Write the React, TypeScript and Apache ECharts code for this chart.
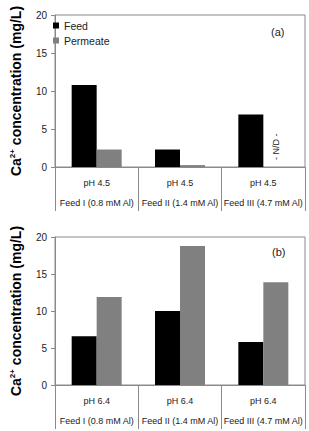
import React, { useEffect, useRef } from "react";
import * as echarts from "echarts";

// Feed solutions and their pH conditions
const feeds = ["Feed I (0.8 mM Al)", "Feed II (1.4 mM Al)", "Feed III (4.7 mM Al)"];
const phTop = ["pH 4.5", "pH 4.5", "pH 4.5"];
const phBottom = ["pH 6.4", "pH 6.4", "pH 6.4"];

// Ca2+ concentration (mg/L); permeate of Feed III at pH 4.5 was not detected
const feedTop = [10.8, 2.3, 6.9];
const permeateTop = [2.3, 0.25, 0];
const feedBottom = [6.6, 10.0, 5.8];
const permeateBottom = [11.9, 18.8, 13.9];

const yTicks = [0, 5, 10, 15, 20];

const FONT = "'Liberation Sans', Arial, sans-serif";
const LINE = "#8a8a8a";

export default function App() {
  const ref = useRef<HTMLDivElement>(null);

  useEffect(() => {
    if (!ref.current) return;
    const chart = echarts.init(ref.current, undefined, { renderer: "svg" });

    const xAxisFor = (gridIndex: number, ph: string[]) => ({
      type: "category",
      gridIndex,
      data: feeds.map((f, i) => `${ph[i]}\n${f}`),
      axisLine: { lineStyle: { color: LINE, width: 1 } },
      axisTick: {
        show: true,
        interval: 0,
        length: 44,
        lineStyle: { color: LINE, width: 1 },
      },
      axisLabel: {
        interval: 0,
        margin: 6,
        color: "#222",
        fontFamily: FONT,
        fontSize: 9,
        lineHeight: 20,
      },
    });

    const yAxisFor = (gridIndex: number) => ({
      type: "value",
      gridIndex,
      min: yTicks[0],
      max: yTicks[yTicks.length - 1],
      interval: 5,
      splitLine: { show: false },
      axisLine: { show: true, lineStyle: { color: LINE, width: 1 } },
      axisTick: { show: true, length: 4, lineStyle: { color: LINE } },
      axisLabel: { color: "#222", fontFamily: FONT, fontSize: 10, margin: 8 },
      name: "{b|Ca}{s|2+}{b| concentration (mg/L)}",
      nameLocation: "middle",
      nameGap: 32,
      nameTextStyle: {
        rich: {
          b: { fontFamily: FONT, fontSize: 14, fontWeight: "bold", color: "#000" },
          s: {
            fontFamily: FONT,
            fontSize: 8,
            fontWeight: "bold",
            color: "#000",
            verticalAlign: "top",
            padding: [0, 0, 7, 0],
          },
        },
      },
    });

    const barBase = {
      type: "bar",
      barWidth: 25,
      barGap: "0%",
    };

    chart.setOption({
      animation: false,
      textStyle: { fontFamily: FONT },
      legend: {
        data: ["Feed", "Permeate"],
        orient: "vertical",
        left: 48,
        top: 15,
        itemWidth: 6,
        itemHeight: 6,
        itemGap: 4,
        icon: "rect",
        textStyle: { fontSize: 10.5, color: "#222", fontFamily: FONT },
      },
      grid: [
        { left: 41, top: 15, width: 264, height: 152, show: true, borderColor: LINE, borderWidth: 1 },
        { left: 41, top: 237, width: 264, height: 153, show: true, borderColor: LINE, borderWidth: 1 },
      ],
      xAxis: [xAxisFor(0, phTop), xAxisFor(1, phBottom)],
      yAxis: [yAxisFor(0), yAxisFor(1)],
      series: [
        { ...barBase, name: "Feed", xAxisIndex: 0, yAxisIndex: 0, data: feedTop, itemStyle: { color: "#000" } },
        {
          ...barBase,
          name: "Permeate",
          xAxisIndex: 0,
          yAxisIndex: 0,
          itemStyle: { color: "#808080" },
          data: permeateTop.map((v, i) =>
            i === 2
              ? {
                  value: v,
                  label: {
                    show: true,
                    formatter: "- N/D -",
                    position: "top",
                    rotate: 90,
                    align: "left",
                    verticalAlign: "middle",
                    distance: 4,
                    offset: [3, 0],
                    fontSize: 9,
                    color: "#222",
                    fontFamily: FONT,
                  },
                }
              : v
          ),
        },
        { ...barBase, name: "Feed", xAxisIndex: 1, yAxisIndex: 1, data: feedBottom, itemStyle: { color: "#000" } },
        { ...barBase, name: "Permeate", xAxisIndex: 1, yAxisIndex: 1, data: permeateBottom, itemStyle: { color: "#808080" } },
      ],
      graphic: [
        { type: "text", left: 271, top: 26, style: { text: "(a)", fontSize: 11, fill: "#222", fontFamily: FONT } },
        { type: "text", left: 272, top: 246, style: { text: "(b)", fontSize: 11, fill: "#222", fontFamily: FONT } },
      ],
    });

    return () => chart.dispose();
  }, []);

  return (
    <div
      ref={ref}
      style={{ position: "fixed", left: 0, top: 0, width: 309, height: 431, background: "#fff" }}
    />
  );
}
